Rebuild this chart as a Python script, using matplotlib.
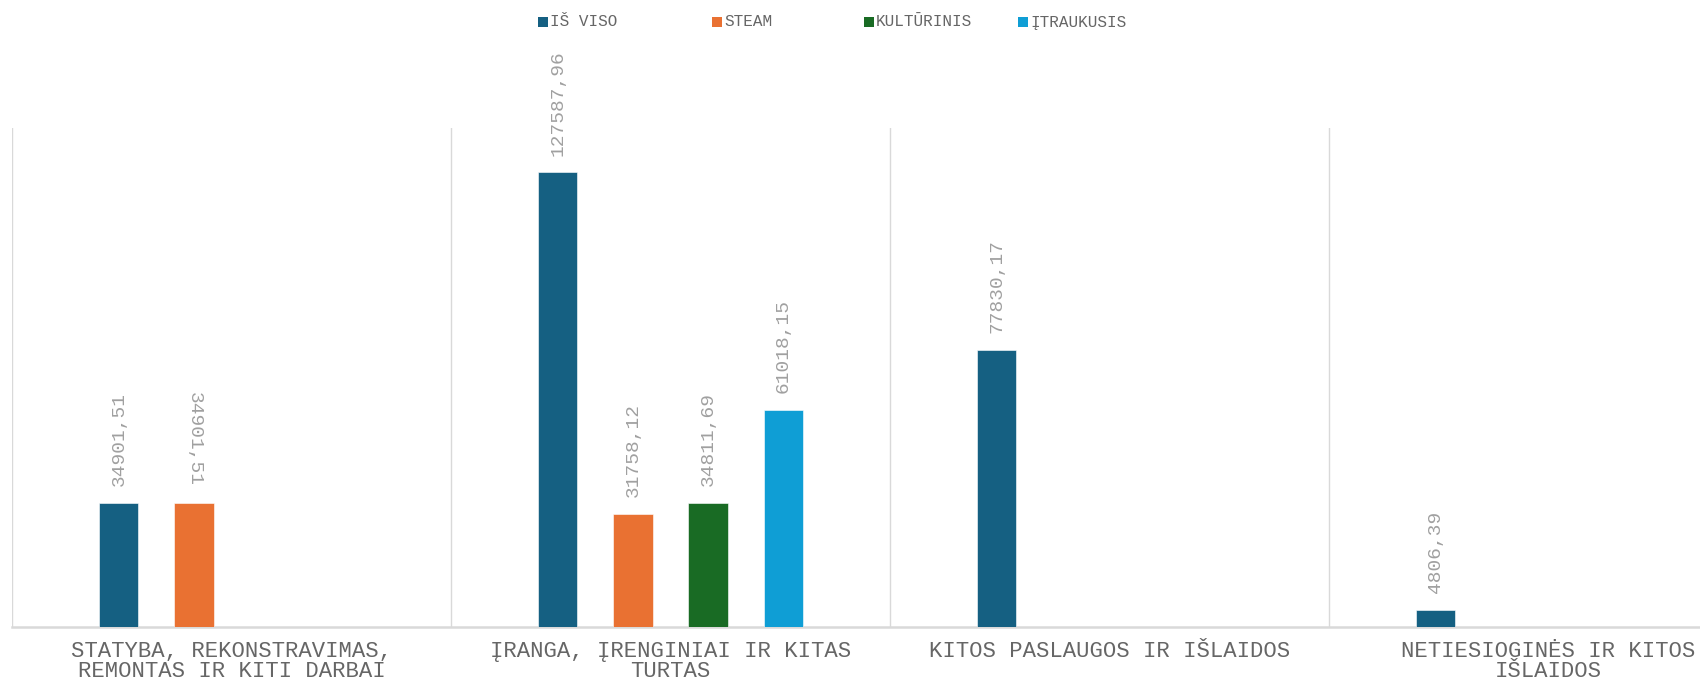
import numpy as np
import matplotlib.pyplot as plt
from matplotlib.patches import Rectangle

plt.rcParams['font.family'] = ['Liberation Mono', 'DejaVu Sans Mono']

# Data
categories = ['STATYBA, REKONSTRAVIMAS,\nREMONTAS IR KITI DARBAI',
              'ĮRANGA, ĮRENGINIAI IR KITAS\nTURTAS',
              'KITOS PASLAUGOS IR IŠLAIDOS',
              'NETIESIOGINĖS IR KITOS\nIŠLAIDOS']
series_names = ['IŠ VISO', 'STEAM', 'KULTŪRINIS', 'ĮTRAUKUSIS']
is_viso = [34901.51, 127587.96, 77830.17, 4806.39]
steam = [34901.51, 31758.12, np.nan, np.nan]
kulturinis = [np.nan, 34811.69, np.nan, np.nan]
itraukusis = [np.nan, 61018.15, np.nan, np.nan]
series = [is_viso, steam, kulturinis, itraukusis]
colors = ['#156082', '#E97132', '#196B24', '#0F9ED5']

fig = plt.figure(figsize=(17, 6.8), dpi=100)
# plot area runs past the right edge, as in the reference
ax = fig.add_axes([12 / 1700, 53 / 680, 1756 / 1700, 499 / 680])

x = np.arange(len(categories)) + 0.5
step = 0.171
width = 0.089
for i, (vals, col) in enumerate(zip(series, colors)):
    pos = x + (i - 1.5) * step
    ax.bar(pos, vals, width=width, color=col, edgecolor='white', linewidth=0.4, zorder=3)
    for j, (p, v) in enumerate(zip(pos, vals)):
        if np.isnan(v):
            continue
        label = f'{v:.2f}'.replace('.', ',')
        rot = -90 if (i == 1 and j == 0) else 90
        ax.annotate(label, (p, v), xytext=(0, 12), textcoords='offset points',
                    rotation=rot, ha='center', va='bottom', fontsize=14,
                    color='#a0a0a0', zorder=4)

ax.set_xlim(0, len(categories))
ax.set_ylim(0, 140000)
ax.set_yticks([])
ax.set_xticks(x)
ax.set_xticklabels(categories, fontsize=16, color='#666666', linespacing=0.94)
ax.tick_params(axis='x', length=0, pad=10)
for b in range(len(categories) + 1):
    ax.axvline(b, color='#d9d9d9', linewidth=1, zorder=1)
for s in ['top', 'right', 'left']:
    ax.spines[s].set_visible(False)
ax.spines['bottom'].set_color('#d9d9d9')
ax.spines['bottom'].set_linewidth(1.8)

# legend laid out like the reference (uneven column widths)
legend_x = [538, 712, 864, 1018]
for lx, name, col in zip(legend_x, series_names, colors):
    fig.patches.append(Rectangle((lx / 1700, 1 - 27 / 680), 10 / 1700, 10 / 680,
                                 facecolor=col, transform=fig.transFigure, figure=fig))
    fig.text((lx + 12) / 1700, 1 - 22 / 680, name, fontsize=11.5, color='#666666',
             ha='left', va='center')

fig.savefig('out.png', dpi=100)
plt.close()
